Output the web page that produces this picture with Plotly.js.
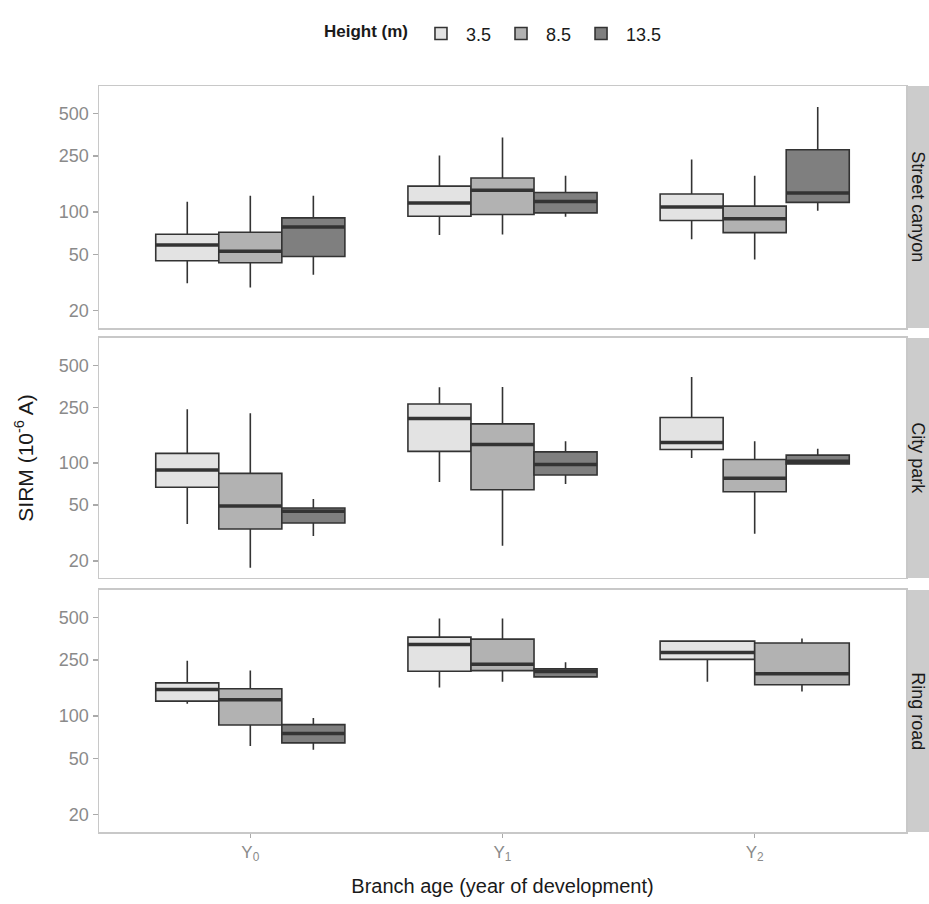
<!DOCTYPE html>
<html><head><meta charset="utf-8">
<script src="https://cdn.plot.ly/plotly-3.0.1.min.js"></script>
<style>html,body{margin:0;padding:0;background:#fff}#chart{width:929px;height:904px}</style>
</head><body><div id="chart"></div>
<script>
// ---------- data ----------
const categories = ['Y<sub>0</sub>', 'Y<sub>1</sub>', 'Y<sub>2</sub>'];
const heights = ['3.5', '8.5', '13.5'];
const sites = ['Street canyon', 'City park', 'Ring road'];
const yTickVals = [20, 50, 100, 250, 500];

// each array: [category Y0,Y1,Y2][height 3.5, 8.5, 13.5]
const streetLower  = [[31.3, 29.2, 35.9], [68.9, 69.3, 92.6], [64.2, 46.2, 102.1]];
const streetQ1     = [[45.2, 43.8, 48.5], [93.6, 96.3, 98.8], [87.3, 71.6, 117.3]];
const streetMedian = [[58.4, 52.7, 78.5], [115.9, 142.8, 119.2], [108.6, 89.6, 136.6]];
const streetQ3     = [[69.7, 72.0, 91.0], [153, 174.8, 138], [134.4, 110.3, 276.8]];
const streetUpper  = [[118.4, 130.7, 130.7], [252, 338.6, 181.5], [236, 181.5, 558]];

const parkLower  = [[36.7, 17.8, 30.1], [73.2, 25.6, 70.9], [108.6, 31.2, 98.8]];
const parkQ1     = [[67.1, 33.8, 37.3], [121.2, 64.5, 82.1], [125.2, 62.4, 98.8]];
const parkMedian = [[89.1, 49.3, 45.2], [208.3, 135.9, 97.9], [140.5, 77.8, 103]];
const parkQ3     = [[117.3, 84.4, 47.7], [264.8, 190.7, 120.4], [211.7, 106.2, 114]];
const parkUpper  = [[242.7, 227.3, 55.4], [348.5, 350, 143.5], [412.7, 143.5, 126.4]];

const ringLower  = [[122.5, 61.5, 57.7], [159.7, 175.1, 188], [175.1, 149.6, null]];
const ringQ1     = [[127.8, 86.6, 64.6], [208, 210.4, 190], [252.8, 166.9, null]];
const ringMedian = [[154.5, 130.8, 75.3], [322.6, 233.1, 207], [283.3, 199.5, null]];
const ringQ3     = [[172.3, 156.3, 87.1], [363.6, 352, 216.4], [340.8, 330, null]];
const ringUpper  = [[247.6, 210.4, 97], [492, 492, 240.8], [340.8, 355.6, null]];

const siteStats = [
  {lower: streetLower, q1: streetQ1, median: streetMedian, q3: streetQ3, upper: streetUpper},
  {lower: parkLower, q1: parkQ1, median: parkMedian, q3: parkQ3, upper: parkUpper},
  {lower: ringLower, q1: ringQ1, median: ringMedian, q3: ringQ3, upper: ringUpper}
];

// ---------- style ----------
const fills = ['#e3e3e3', '#b2b2b2', '#7f7f7f'];
const lineCol = '#333333';
const FONT = 'Liberation Sans, Arial, sans-serif';
const domains = [[0.6756, 1], [0.3405, 0.6622], [0, 0.3244]];
const dodgeWidth = 0.75;

const traces = [];
const medianTraces = [];
siteStats.forEach((st, p) => {
  const xa = p === 0 ? 'x' : 'x' + (p + 1);
  const ya = p === 0 ? 'y' : 'y' + (p + 1);
  const mx = [], my = [];
  categories.forEach((c, ci) => {
    const present = heights.map((h, hi) => hi).filter(hi => st.median[ci][hi] !== null);
    const n = present.length;
    const w = dodgeWidth / n;
    present.forEach((hi, k) => {
      const xc = (ci + 1) - dodgeWidth / 2 + (k + 0.5) * w;
      traces.push({
        type: 'box', xaxis: xa, yaxis: ya,
        name: heights[hi], legendgroup: heights[hi],
        showlegend: p === 0 && ci === 0,
        x: [xc], q1: [st.q1[ci][hi]], median: [st.median[ci][hi]], q3: [st.q3[ci][hi]],
        lowerfence: [st.lower[ci][hi]], upperfence: [st.upper[ci][hi]],
        width: w, whiskerwidth: 0, boxpoints: false,
        fillcolor: fills[hi], line: {color: lineCol, width: 1.6},
        hoverinfo: 'skip'
      });
      mx.push(xc - w / 2, xc + w / 2, null);
      my.push(st.median[ci][hi], st.median[ci][hi], null);
    });
  });
  medianTraces.push({
    type: 'scatter', mode: 'lines', xaxis: xa, yaxis: ya, x: mx, y: my,
    line: {color: lineCol, width: 3.5}, showlegend: false, hoverinfo: 'skip'
  });
});

const layout = {
  width: 929, height: 904,
  margin: {l: 99, r: 23, t: 86, b: 72, autoexpand: false},
  paper_bgcolor: '#ffffff', plot_bgcolor: '#ffffff',
  font: {family: FONT, color: '#1a1a1a'},
  boxmode: 'overlay',
  showlegend: true,
  legend: {
    orientation: 'h', x: 0.49, xanchor: 'center', y: 1.07, yanchor: 'middle',
    title: {text: '<b>Height (m)</b>', font: {size: 17, color: '#1a1a1a'}},
    font: {size: 18, color: '#1a1a1a'}, traceorder: 'normal', itemwidth: 40
  },
  shapes: [], annotations: []
};

siteStats.forEach((st, p) => {
  const xk = p === 0 ? 'xaxis' : 'xaxis' + (p + 1);
  const yk = p === 0 ? 'yaxis' : 'yaxis' + (p + 1);
  const ya = p === 0 ? 'y' : 'y' + (p + 1);
  const bottom = p === 2;
  layout[xk] = {
    anchor: ya, domain: [0, 1], range: [0.4, 3.6],
    tickvals: [1, 2, 3], ticktext: categories,
    showticklabels: bottom, ticks: bottom ? 'outside' : '', ticklen: 4, tickwidth: 1.5, tickcolor: '#aaaaaa',
    tickfont: {size: 17, color: '#8a8a8a'},
    showgrid: false, zeroline: false,
    showline: true, mirror: true, linecolor: '#c8c8c8', linewidth: 1.5
  };
  if (p !== 0) layout[xk].matches = 'x';
  if (bottom) layout[xk].title = {text: 'Branch age (year of development)', font: {size: 20, color: '#1a1a1a'}, standoff: 15};
  layout[yk] = {
    anchor: p === 0 ? 'x' : 'x' + (p + 1), domain: domains[p],
    type: 'log', range: [1.178, 2.895],
    tickvals: yTickVals, ticktext: yTickVals.map(String),
    ticks: 'outside', ticklen: 5, tickwidth: 1.5, tickcolor: '#aaaaaa',
    tickfont: {size: 18, color: '#8a8a8a'},
    showgrid: false, zeroline: false,
    showline: true, mirror: true, linecolor: '#c8c8c8', linewidth: 1.5
  };
  if (p === 1) layout[yk].title = {text: 'SIRM (10<sup>-6</sup> A)', font: {size: 21, color: '#1a1a1a'}, standoff: 19};
  layout.shapes.push({
    type: 'rect', xref: 'paper', yref: ya + ' domain', x0: 1.001, x1: 1.03, y0: 0, y1: 1,
    fillcolor: '#cccccc', line: {width: 0}, layer: 'below'
  });
  layout.annotations.push({
    text: sites[p], xref: 'paper', yref: ya + ' domain', x: 1.0145, y: 0.5,
    xanchor: 'center', yanchor: 'middle', textangle: 90, showarrow: false,
    font: {size: 18, color: '#1a1a1a'}
  });
});

Plotly.newPlot('chart', traces.concat(medianTraces), layout, {displayModeBar: false, staticPlot: true});
</script>
</body></html>
